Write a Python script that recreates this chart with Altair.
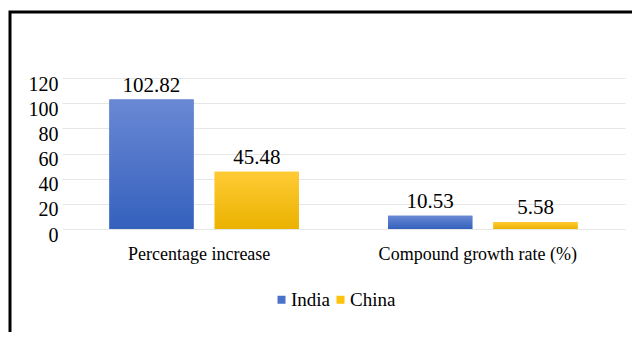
import altair as alt
import pandas as pd

categories = ["Percentage increase", "Compound growth rate (%)"]
series = ["India", "China"]
india_values = [102.82, 10.53]
china_values = [45.48, 5.58]
y_ticks = [0, 20, 40, 60, 80, 100, 120]

rows = []
for i, c in enumerate(categories):
    rows.append({"category": c, "country": "India", "value": india_values[i]})
    rows.append({"category": c, "country": "China", "value": china_values[i]})
df = pd.DataFrame(rows)

FONT = "'Liberation Serif', 'Times New Roman', Times, serif"

x_enc = alt.X("category:N", sort=categories,
              scale=alt.Scale(paddingInner=0.32, paddingOuter=0.17),
              axis=alt.Axis(title=None, labelAngle=0, domain=False, ticks=False,
                            labelFont=FONT, labelFontSize=18, labelColor="#000000",
                            labelPadding=16, labelBaseline="top", labelLimit=0,
                            labelOffset=-5))
xoff_enc = alt.XOffset("country:N", sort=series,
                       scale=alt.Scale(paddingInner=0.2, paddingOuter=0))
y_enc = alt.Y("value:Q",
              scale=alt.Scale(domain=[0, 120], nice=False),
              axis=alt.Axis(title=None, values=y_ticks, domain=False, ticks=False,
                            labelFont=FONT, labelFontSize=20, labelColor="#000000",
                            labelPadding=4, labelOffset=6,
                            gridColor="#E6E6E6", gridWidth=1))

base = alt.Chart(df)

bars = base.mark_bar().encode(
    x=x_enc, xOffset=xoff_enc, y=y_enc,
    color=alt.Color("country:N", sort=series,
                    scale=alt.Scale(domain=series, range=["#4A72C8", "#FFC20A"]),
                    legend=alt.Legend(title=None, orient="none", legendX=210, legendY=212,
                                      direction="horizontal", symbolType="square",
                                      symbolSize=64, symbolStrokeWidth=0,
                                      labelFont=FONT, labelFontSize=19, labelColor="#000000",
                                      labelOffset=0, columnPadding=0, padding=0))
)

india_grad = alt.Gradient(gradient="linear",
                          stops=[alt.GradientStop(color="#6A88D4", offset=0),
                                 alt.GradientStop(color="#3461BD", offset=1)],
                          x1=0, x2=0, y1=0, y2=1)
china_grad = alt.Gradient(gradient="linear",
                          stops=[alt.GradientStop(color="#FFCB35", offset=0),
                                 alt.GradientStop(color="#EBB200", offset=1)],
                          x1=0, x2=0, y1=0, y2=1)

india_bars = base.transform_filter(alt.datum.country == "India").mark_bar(color=india_grad).encode(
    x=x_enc, xOffset=xoff_enc, y=y_enc)
china_bars = base.transform_filter(alt.datum.country == "China").mark_bar(color=china_grad).encode(
    x=x_enc, xOffset=xoff_enc, y=y_enc)

labels = base.mark_text(font=FONT, fontSize=21, color="#000000", baseline="bottom", dy=-4).encode(
    x=x_enc, xOffset=xoff_enc, y=y_enc,
    text=alt.Text("value:Q", format=".2f"))

frame = alt.Chart(pd.DataFrame({"a": [0]})).mark_rect(
    fill=None, stroke="#000000", strokeWidth=3).encode(
    x=alt.value(-52), y=alt.value(-66), x2=alt.value(1200), y2=alt.value(1200))

chart = alt.layer(bars, india_bars, china_bars, labels, frame).properties(
    width=563, height=151,
    padding={"left": 54, "top": 70, "right": 7, "bottom": 103},
    autosize=alt.AutoSizeParams(type="none"),
    background="#FFFFFF",
).configure_view(stroke=None)

chart.save("out.html", embed_options={"renderer": "svg", "actions": False})
